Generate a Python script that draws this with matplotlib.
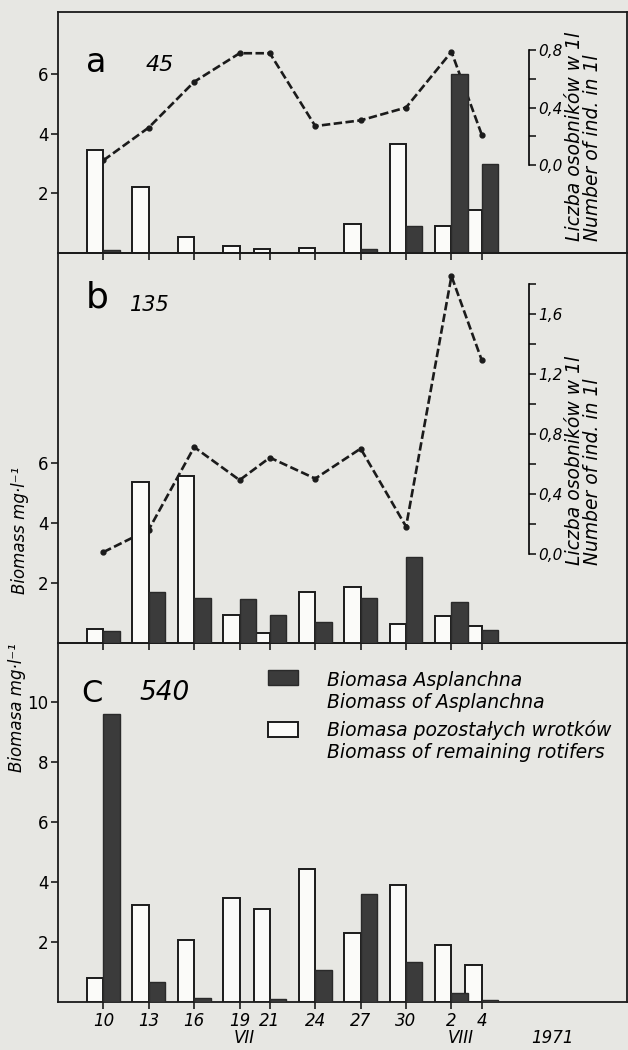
import numpy as np
import matplotlib.pyplot as plt
from matplotlib.patches import Rectangle

# sampling dates, July-August 1971 (33 = 2 VIII, 35 = 4 VIII)
days = [10, 13, 16, 19, 21, 24, 27, 30, 33, 35]
day_labels = ["10", "13", "16", "19", "21", "24", "27", "30", "2", "4"]

# biomass mg/l : remaining rotifers (white bars) and Asplanchna (dark bars)
a_other = [3.45, 2.23, 0.53, 0.23, 0.15, 0.18, 0.96, 3.65, 0.90, 1.44]
a_asplanchna = [0.10, 0.0, 0.0, 0.0, 0.0, 0.0, 0.13, 0.90, 6.00, 3.00]
b_other = [0.47, 5.37, 5.58, 0.92, 0.33, 1.69, 1.87, 0.64, 0.89, 0.58]
b_asplanchna = [0.39, 1.69, 1.49, 1.47, 0.92, 0.69, 1.50, 2.87, 1.36, 0.44]
c_other = [0.80, 3.22, 2.08, 3.47, 3.08, 4.43, 2.30, 3.89, 1.89, 1.24]
c_asplanchna = [9.60, 0.67, 0.13, 0.0, 0.11, 1.08, 3.61, 1.32, 0.30, 0.06]

# Asplanchna number of ind. in 1 l (dashed line)
a_count = [0.03, 0.26, 0.58, 0.78, 0.78, 0.27, 0.31, 0.40, 0.79, 0.21]
b_count = [0.01, 0.16, 0.71, 0.49, 0.64, 0.50, 0.70, 0.18, 1.85, 1.29]

paper = "#e7e7e3"
ink = "#1b1b1b"
dark = "#3b3b3b"

W, H = 628, 1050
fig = plt.figure(figsize=(W / 100, H / 100), dpi=100, facecolor=paper)


def box(x0, y0, x1, y1):
    return [x0 / W, 1 - y1 / H, (x1 - x0) / W, (y1 - y0) / H]


ax_a = fig.add_axes(box(58, 12, 627, 253))
ax_b = fig.add_axes(box(58, 253, 627, 643))
ax_c = fig.add_axes(box(58, 643, 627, 1002))

bw = 1.08
x = np.array(days)
panels = [(ax_a, a_other, a_asplanchna, 8.1, [2, 4, 6]),
          (ax_b, b_other, b_asplanchna, 13.0, [2, 4, 6]),
          (ax_c, c_other, c_asplanchna, 11.95, [2, 4, 6, 8, 10])]
for ax, other, asp, top, yt in panels:
    ax.patch.set_visible(False)
    ax.bar(x - bw / 2, other, width=bw, color="#fbfbf9", edgecolor=ink, linewidth=1.4, zorder=3)
    ax.bar(x + bw / 2, asp, width=bw, color=dark, edgecolor="#2a2a2a", linewidth=1.0, zorder=4)
    ax.set_xlim(7.0, 44.6)
    ax.set_ylim(0, top)
    ax.set_xticks(days)
    ax.set_yticks(yt)
    ax.tick_params(axis="both", direction="out", length=5, width=1.2, color=ink,
                   labelsize=12, pad=2)
    for s in ax.spines.values():
        s.set_linewidth(1.3)
        s.set_color(ink)

ax_a.tick_params(labelbottom=False)
ax_b.tick_params(labelbottom=False)
ax_c.set_xticklabels(day_labels, fontstyle="italic", fontsize=12)


def count_axis(ax, counts, zero, scale, top, ticks, minor):
    tw = ax.twinx()
    lo, hi = ax.get_ylim()
    tw.set_ylim((lo - zero) / scale, (hi - zero) / scale)
    tw.plot(days, counts, linestyle=(0, (3.2, 1.3)), linewidth=1.9, color=ink,
            marker="o", markersize=3.5, zorder=2)
    for s in ["left", "top", "bottom"]:
        tw.spines[s].set_visible(False)
    tw.spines["right"].set_position(("data", 38.1))
    tw.spines["right"].set_bounds(0, top)
    tw.spines["right"].set_linewidth(1.2)
    tw.set_yticks(ticks)
    tw.set_yticklabels([f"{t:.1f}".replace(".", ",") for t in ticks],
                       fontstyle="italic", fontsize=11)
    tw.set_yticks(minor, minor=True)
    tw.tick_params(axis="y", which="both", direction="out", length=5, width=1.2,
                   color=ink, pad=2)
    ax.set_zorder(tw.get_zorder() + 1)
    return tw


count_axis(ax_a, a_count, 2.97, 4.8, 0.8, [0.0, 0.4, 0.8], [0.2, 0.6])
count_axis(ax_b, b_count, 2.98, 5.0, 1.8, [0.0, 0.4, 0.8, 1.2, 1.6],
           [0.2, 0.6, 1.0, 1.4, 1.8])

# right axis titles
for y0 in (241, 565):
    fig.text(574 / W, 1 - y0 / H, "Liczba osobników w 1l", rotation=90,
             ha="center", va="bottom", fontstyle="italic", fontsize=13.5)
    fig.text(593 / W, 1 - y0 / H, "Number of ind. in 1l", rotation=90,
             ha="center", va="bottom", fontstyle="italic", fontsize=13.5)

# left axis titles
fig.text(20 / W, 1 - 530 / H, "Biomass mg·l⁻¹", rotation=90, ha="center", va="center",
         fontstyle="italic", fontsize=12)
fig.text(17 / W, 1 - 708 / H, "Biomasa mg·l⁻¹", rotation=90, ha="center", va="center",
         fontstyle="italic", fontsize=12)

# panel tags
fig.text(96 / W, 1 - 63 / H, "a", fontsize=24, ha="center", va="center")
fig.text(160 / W, 1 - 65 / H, "45", fontsize=16, fontstyle="italic", ha="center", va="center")
fig.text(97 / W, 1 - 298 / H, "b", fontsize=26, ha="center", va="center")
fig.text(150 / W, 1 - 305 / H, "135", fontsize=15, fontstyle="italic", ha="center", va="center")
fig.text(92 / W, 1 - 693 / H, "C", fontsize=22, ha="center", va="center")
fig.text(165 / W, 1 - 693 / H, "540", fontsize=19, fontstyle="italic", ha="center", va="center")

# month / year under the dates
for lab, d in [("VII", 19.3), ("VIII", 33.6), ("1971", 39.7)]:
    ax_c.text(d, -0.10, lab, transform=ax_c.get_xaxis_transform(), ha="center",
              va="center", fontstyle="italic", fontsize=12)

# legend
fig.add_artist(Rectangle((268 / W, 1 - 685 / H), 30 / W, 15 / H, transform=fig.transFigure,
                         facecolor=dark, edgecolor="#2a2a2a", linewidth=1.0))
fig.add_artist(Rectangle((268 / W, 1 - 737 / H), 30 / W, 15 / H, transform=fig.transFigure,
                         facecolor="#fbfbf9", edgecolor=ink, linewidth=1.4))
for txt, yy in [("Biomasa Asplanchna", 680), ("Biomass of Asplanchna", 702),
                ("Biomasa pozostałych wrotków", 730), ("Biomass of remaining rotifers", 753)]:
    fig.text(327 / W, 1 - yy / H, txt, va="center", ha="left", fontstyle="italic", fontsize=13.5)

fig.savefig("out.png", dpi=100, facecolor=paper)
